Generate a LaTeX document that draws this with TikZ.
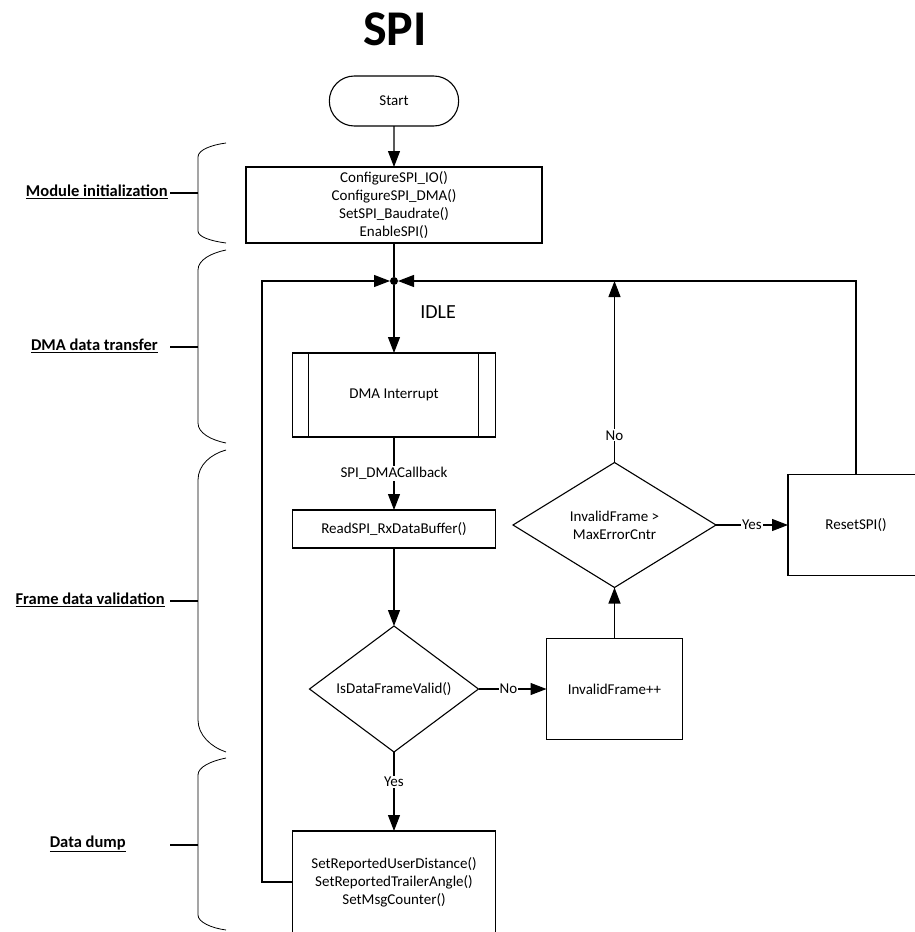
\documentclass[tikz,border=0pt]{standalone}
\usepackage{fontspec}
\setmainfont{Carlito}
\usetikzlibrary{shapes.geometric, shapes.misc, arrows.meta, positioning}

\begin{document}
\begin{tikzpicture}[x=1pt, y=-1pt, node distance=40pt, >={Triangle[length=16pt,width=12pt]}, line width=1.1pt,
    font=\fontsize{15}{18}\selectfont, every node/.style={outer sep=0pt},
    process/.style={draw, rectangle, minimum width=203pt, minimum height=38pt, align=center, inner sep=2pt},
    decision/.style={draw, diamond, aspect=1.35, minimum width=169pt, minimum height=126pt, align=center, inner sep=0pt},
    startstop/.style={draw, rounded rectangle, minimum width=136pt, minimum height=50pt},
    junction/.style={circle, fill, minimum size=8pt, inner sep=0pt},
    edgelbl/.style={fill=white, inner sep=1pt},
    section/.style={font=\fontsize{16.5}{20}\selectfont\bfseries, anchor=east},
    brace/.style={line width=0.8pt}]

    \useasboundingbox (0,0) rectangle (914,932);

    % Nodes
    \node (title) [font=\fontsize{50}{60}\selectfont\bfseries, anchor=base] at (395,45) {SPI};
    \node (start) [startstop] at (394,101) {Start};
    \node (init) [process, minimum width=296pt, minimum height=76pt, below=41pt of start] {ConfigureSPI\_IO()\\ConfigureSPI\_DMA()\\SetSPI\_Baudrate()\\EnableSPI()};
    \node (join) [junction, below=34pt of init] {};
    \node (idle) [font=\fontsize{20}{24}\selectfont, anchor=base west] at ([shift={(23pt,-37pt)}]join.center) {IDLE};
    \node (dma) [process, minimum height=84pt, below=68pt of join] {DMA Interrupt};
    \node (read) [process, below=73pt of dma] {ReadSPI\_RxDataBuffer()};
    \node (valid) [decision, below=78pt of read] {IsDataFrameValid()};
    \node (dump) [process, minimum height=102pt, below=79pt of valid] {SetReportedUserDistance()\\SetReportedTrailerAngle()\\SetMsgCounter()};
    \node (inv) [process, minimum width=136pt, minimum height=101pt, right=68pt of valid] {InvalidFrame++};
    \node (err) [decision, minimum width=203pt, minimum height=125pt, above=51pt of inv] {InvalidFrame >\\MaxErrorCntr};
    \node (reset) [process, minimum width=136pt, minimum height=101pt, right=72pt of err] {ResetSPI()};

    % Section labels
    \node (secInit) [section] at (171,192) {\underline{Module initialization}};
    \node (secDma) [section] at (161,346) {\underline{DMA data transfer}};
    \node (secFrame) [section] at (168,600) {\underline{Frame data validation}};
    \node (secDump) [section] at (129,844) {\underline{Data dump}};

    % Braces
    \draw[brace] (226,143) .. controls (211,145) and (198,150) .. (198,157) -- (198,231) .. controls (198,237) and (211,241) .. (226,243);
    \draw[brace] (226,250) .. controls (211,253) and (198,260) .. (198,270) -- (198,423) .. controls (198,433) and (211,440) .. (226,443);
    \draw[brace] (226,450) .. controls (211,454) and (198,465) .. (198,480) -- (198,720) .. controls (198,735) and (211,747) .. (226,752);
    \draw[brace] (226,758) .. controls (211,761) and (198,767) .. (198,775) -- (198,915) .. controls (198,922) and (211,928) .. (226,930);
    \draw (198,193) -- (170,193);
    \draw (198,347) -- (170,347);
    \draw (198,601) -- (170,601);
    \draw (198,845) -- (170,845);

    % Links
    \draw[->] (start) -- (init);
    \draw (init) -- (join);
    \draw[->] (join) -- (dma);
    \draw ([xshift=16pt]dma.north west) -- ([xshift=16pt]dma.south west);
    \draw ([xshift=-17pt]dma.north east) -- ([xshift=-17pt]dma.south east);
    \draw[->] (dma) -- node[edgelbl] {SPI\_DMACallback} (read);
    \draw[->] (read) -- (valid);
    \draw[->] (valid) -- node[edgelbl, pos=0.38] {Yes} (dump);
    \draw[->] (valid) -- node[edgelbl, pos=0.44] {No} (inv);
    \draw[->] (inv) -- (err);
    \draw[->] (err) -- node[edgelbl] {Yes} (reset);
    \draw[->] (err.north) -- node[edgelbl, pos=0.15] {No} (err.north |- join);
    \draw[->] (reset.north) |- (join);
    \draw[->] (dump.west) -| ([xshift=-132pt]join.center) -- (join);
\end{tikzpicture}
\end{document}
